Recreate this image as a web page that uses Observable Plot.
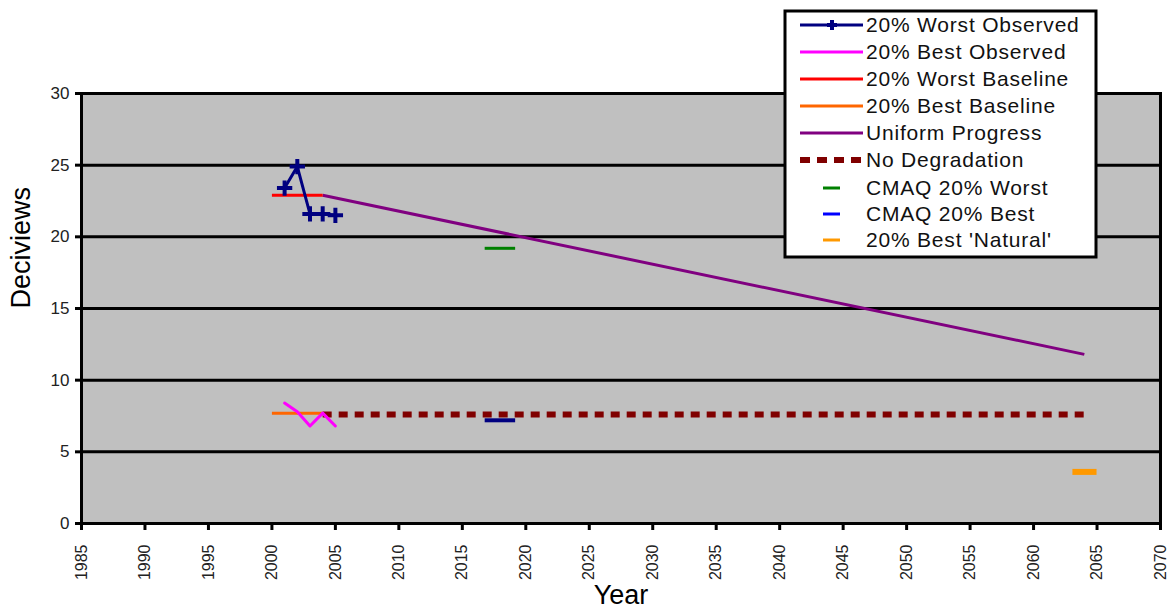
<!DOCTYPE html>
<html>
<head>
<meta charset="utf-8">
<script src="https://cdn.jsdelivr.net/npm/d3@7"></script>
<script src="https://cdn.jsdelivr.net/npm/@observablehq/plot@0.6"></script>
<style>
  html, body { margin: 0; padding: 0; background: white; }
  svg { display: block; }
</style>
</head>
<body>
<div id="chart"></div>
<script>
// ---- data ----
const xTicks = [1985, 1990, 1995, 2000, 2005, 2010, 2015, 2020, 2025, 2030, 2035, 2040, 2045, 2050, 2055, 2060, 2065, 2070];
const yTicks = [0, 5, 10, 15, 20, 25, 30];

const observedYears = [2001, 2002, 2003, 2004, 2005];
const worstObserved = [23.4, 24.9, 21.6, 21.6, 21.5];
const bestObserved = [8.4, 7.8, 6.8, 7.7, 6.8];

const baselineYears = [2000, 2004];
const worstBaseline = [22.9, 22.9];
const bestBaseline = [7.7, 7.7];

const progressYears = [2004, 2064];
const uniformProgress = [22.9, 11.8];
const noDegradation = [7.6, 7.6];

const cmaqWorst = [{start: 2016.8, end: 2019.2, value: 19.2}];
const cmaqBest = [{start: 2016.8, end: 2019.2, value: 7.2}];
const bestNatural = [{start: 2063.1, end: 2065.0, value: 3.6}];

const legendLabels = ["20% Worst Observed", "20% Best Observed", "20% Worst Baseline", "20% Best Baseline",
  "Uniform Progress", "No Degradation", "CMAQ 20% Worst", "CMAQ 20% Best", "20% Best 'Natural'"];
const legendColors = ["#000080", "#ff00ff", "#ff0000", "#ff6600", "#800080", "#800000", "#008000", "#0000ff", "#ff9900"];
const legendKinds = ["marker", "line", "line", "line", "line", "dash", "short", "short", "short"];

// ---- tables built from arrays ----
const zipRows = (xs, ys) => xs.map((x, i) => ({year: x, value: ys[i]}));
const worstObs = zipRows(observedYears, worstObserved);
const bestObs = zipRows(observedYears, bestObserved);
const worstBase = zipRows(baselineYears, worstBaseline);
const bestBase = zipRows(baselineYears, bestBaseline);
const progress = zipRows(progressYears, uniformProgress);
const noDeg = zipRows(progressYears, noDegradation);

const font = "'Liberation Sans', Arial, sans-serif";

const chart = Plot.plot({
  width: 1172,
  height: 616,
  marginLeft: 81,
  marginRight: 12,
  marginTop: 93,
  marginBottom: 93,
  style: {fontFamily: font, background: "white", color: "black"},
  x: {domain: [1985, 2070]},
  y: {domain: [0, 30]},
  marks: [
    Plot.frame({fill: "#c0c0c0"}),
    Plot.ruleY(yTicks, {stroke: "black", strokeWidth: 3}),
    Plot.line(noDeg, {x: "year", y: "value", stroke: "#800000", strokeWidth: 6, strokeDasharray: "9,7", strokeLinecap: "butt"}),
    Plot.line(progress, {x: "year", y: "value", stroke: "#800080", strokeWidth: 3, strokeLinecap: "butt"}),
    Plot.line(worstBase, {x: "year", y: "value", stroke: "#ff0000", strokeWidth: 3, strokeLinecap: "butt"}),
    Plot.line(bestBase, {x: "year", y: "value", stroke: "#ff6600", strokeWidth: 3, strokeLinecap: "butt"}),
    Plot.line(bestObs, {x: "year", y: "value", stroke: "#ff00ff", strokeWidth: 3}),
    Plot.line(worstObs, {x: "year", y: "value", stroke: "#000080", strokeWidth: 3}),
    Plot.dot(worstObs, {x: "year", y: "value", symbol: "plus", r: 5, stroke: "#000080", strokeWidth: 4}),
    Plot.ruleY(cmaqWorst, {y: "value", x1: "start", x2: "end", stroke: "#008000", strokeWidth: 3}),
    Plot.ruleY(cmaqBest, {y: "value", x1: "start", x2: "end", stroke: "#000080", strokeWidth: 4}),
    Plot.ruleY(bestNatural, {y: "value", x1: "start", x2: "end", stroke: "#ff9900", strokeWidth: 6}),
    Plot.frame({stroke: "black", strokeWidth: 3}),
    Plot.axisX({ticks: xTicks, tickFormat: d => String(d), tickRotate: -90, tickSize: 7, tickPadding: 14,
      fontSize: 16, strokeWidth: 3, label: null, fill: "#222"}),
    Plot.axisY({ticks: yTicks, tickSize: 6, tickPadding: 6, fontSize: 17, strokeWidth: 3, label: null, fill: "#222"}),
    Plot.text(["Year"], {frameAnchor: "bottom", dy: 80, fontSize: 27, fill: "black"}),
    Plot.text(["Deciviews"], {frameAnchor: "left", dx: -60, rotate: -90, fontSize: 27, fill: "black"})
  ]
});

document.getElementById("chart").appendChild(chart);

// ---- legend (overlapping the plot, top right) ----
const svg = d3.select(chart);
const lg = svg.append("g").attr("font-family", font).attr("text-anchor", "start");
lg.append("rect").attr("x", 785).attr("y", 11).attr("width", 311).attr("height", 246)
  .attr("fill", "white").attr("stroke", "black").attr("stroke-width", 3);
legendLabels.forEach((label, i) => {
  const cy = i < 6 ? 25 + 27 * i : 188 + 26 * (i - 6);
  const color = legendColors[i];
  const kind = legendKinds[i];
  if (kind === "line" || kind === "marker") {
    lg.append("line").attr("x1", 800).attr("x2", 863).attr("y1", cy).attr("y2", cy)
      .attr("stroke", color).attr("stroke-width", 3);
  }
  if (kind === "marker") {
    lg.append("path").attr("d", `M${832 - 5},${cy}h10M832,${cy - 5}v10`)
      .attr("stroke", color).attr("stroke-width", 4);
  }
  if (kind === "dash") {
    lg.append("line").attr("x1", 800).attr("x2", 863).attr("y1", cy).attr("y2", cy)
      .attr("stroke", color).attr("stroke-width", 6).attr("stroke-dasharray", "10,7");
  }
  if (kind === "short") {
    lg.append("line").attr("x1", 823).attr("x2", 840).attr("y1", cy).attr("y2", cy)
      .attr("stroke", color).attr("stroke-width", 3);
  }
  lg.append("text").attr("x", 866).attr("y", cy).attr("dy", "0.35em").attr("text-anchor", "start")
    .attr("font-size", 21).attr("letter-spacing", "0.8px").attr("fill", "#111").text(label);
});
</script>
</body>
</html>
